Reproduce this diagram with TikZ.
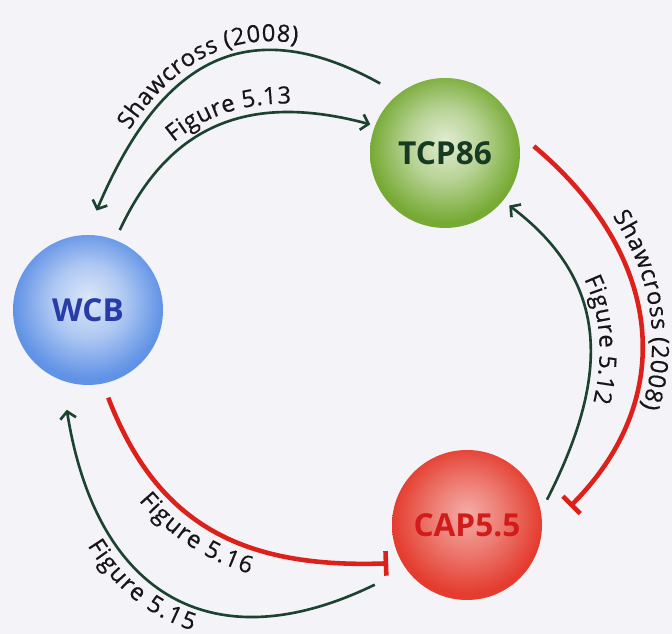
\documentclass[tikz,border=0pt]{standalone}
\usepackage{fontspec}
\setmainfont{Open Sans}
\newfontfamily\labelfam{Open Sans}[FakeBold=0.5]
\usetikzlibrary{arrows.meta,decorations.text}

\definecolor{pagebg}{RGB}{244,243,248}
\definecolor{wcbblue}{RGB}{96,146,230}
\definecolor{wcbtext}{RGB}{40,60,168}
\definecolor{tcpgreen}{RGB}{118,170,52}
\definecolor{tcptext}{RGB}{22,58,34}
\definecolor{capred}{RGB}{228,60,46}
\definecolor{captext}{RGB}{208,28,26}
\definecolor{actline}{RGB}{28,66,48}
\definecolor{inhline}{RGB}{222,32,26}
\definecolor{labeltext}{RGB}{24,20,24}

% sphere shadings, highlight a little above the middle
\pgfdeclareradialshading{wcbball}{\pgfpoint{0bp}{4bp}}{color(0bp)=(wcbblue!22!white); color(12bp)=(wcbblue!50!white); color(25bp)=(wcbblue); color(50bp)=(wcbblue)}
\pgfdeclareradialshading{tcpball}{\pgfpoint{0bp}{4bp}}{color(0bp)=(tcpgreen!22!white); color(12bp)=(tcpgreen!52!white); color(25bp)=(tcpgreen); color(50bp)=(tcpgreen)}
\pgfdeclareradialshading{capball}{\pgfpoint{0bp}{4bp}}{color(0bp)=(capred!42!white); color(12bp)=(capred!68!white); color(25bp)=(capred); color(50bp)=(capred)}

\newcommand{\labelfont}{\color{labeltext}\labelfam\fontsize{13.5}{15}\selectfont}

\tikzset{
  sphere/.style={circle, minimum size=3cm, inner sep=0pt, outer sep=0.4cm,
    font=\fontsize{18}{20}\selectfont\bfseries},
  act/.style={draw=actline, line width=1.5pt},
  inh/.style={draw=inhline, line width=2.6pt, -{Bar[width=14pt]}},
  arclabel/.style n args={3}{postaction={decorate, decoration={text along path,
    text align={#3}, raise=#2, text={|\labelfont|#1}}}}
}

\begin{document}
\begin{tikzpicture}[>={Straight Barb[length=4pt,width=9pt]}]
\useasboundingbox (0,0) rectangle (13.44,12.68);
\fill[pagebg] (0,0) rectangle (13.44,12.68);

\node[sphere, shading=wcbball, text=wcbtext] (wcb) at (1.76,6.48) {WCB};
\node[sphere, shading=tcpball, text=tcptext] (tcp) at (8.90,9.62) {TCP86};
\node[sphere, shading=capball, text=captext] (cap) at (9.34,2.18) {CAP5.5};

% lower ends below WCB
\coordinate (wcbinh) at ([shift={(283:1.8)}]wcb.center);
\coordinate (wcbact) at ([shift={(258:2.04)}]wcb.center);

% WCB <-> TCP86
\draw[act, <-, shorten <=0.1cm, arclabel={Shawcross (2008)}{5pt}{center}]
  (wcb.86) to[out=67, in=151, looseness=1.3] (tcp.133);
\draw[act, ->, shorten <=-0.18cm, shorten >=-0.3cm, arclabel={Figure 5.13}{4pt}{left, left indent=1.85cm}]
  (wcb.68) to[out=65, in=165, looseness=1.1] (tcp.160);

% TCP86 <-> CAP5.5
\draw[inh, shorten <=-0.16cm, shorten >=0.24cm, arclabel={Shawcross (2008)}{6pt}{left, left indent=1.9cm}]
  (tcp.1) to[out=-40, in=45, looseness=1.15] (cap.6);
\draw[act, <-, shorten <=-0.24cm, shorten >=-0.3cm, arclabel={Figure 5.12}{4pt}{center}]
  (tcp.321) to[out=-37, in=63, looseness=1.1] (cap.24);

% WCB <-> CAP5.5
\draw[inh, shorten >=-0.16cm, arclabel={Figure 5.16}{-14pt}{left, left indent=2cm}]
  (wcbinh) to[out=-69, in=182, looseness=1.1] (cap.204);
\draw[act, <-, shorten >=0.3cm, arclabel={Figure 5.15}{-14pt}{left, left indent=2.6cm}]
  (wcbact) to[out=-81, in=206, looseness=1.35] (cap.214);
\end{tikzpicture}
\end{document}
